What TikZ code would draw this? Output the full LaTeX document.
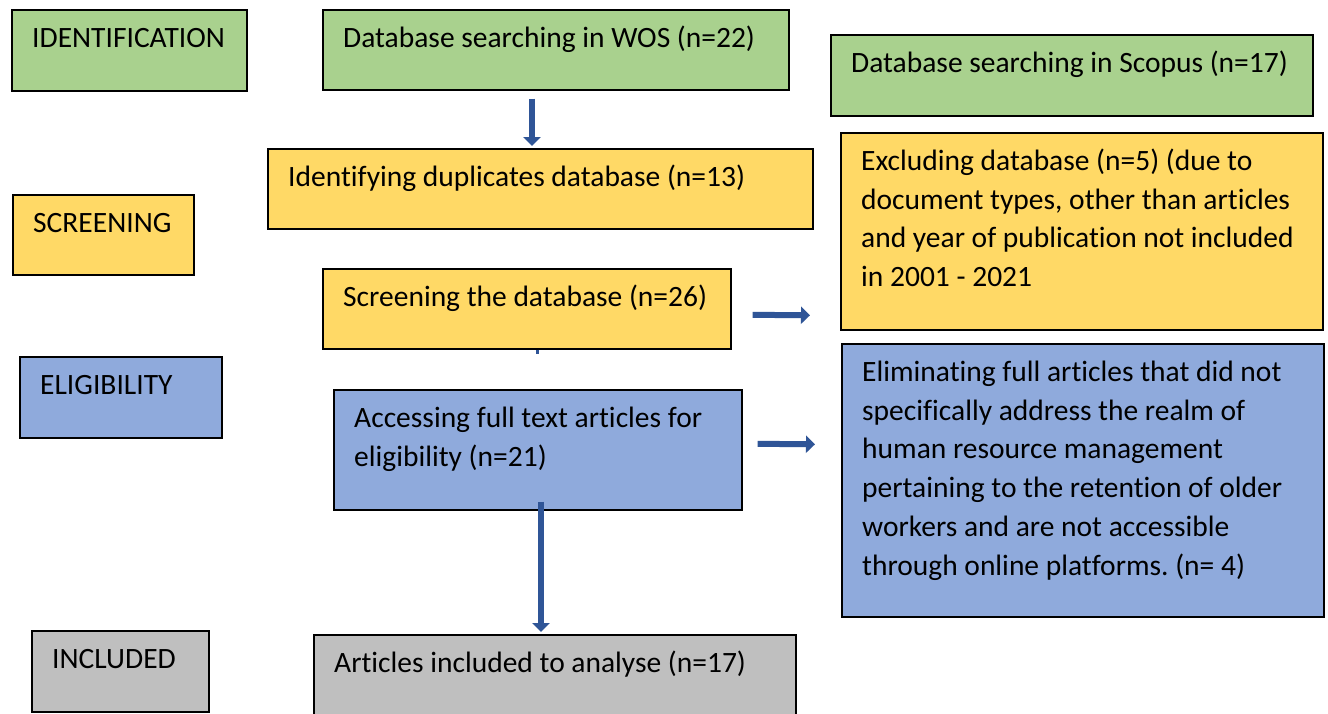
\documentclass[tikz,border=0pt]{standalone}
\usepackage{fontspec}
\setmainfont{Carlito}[Ligatures=NoCommon]
\usetikzlibrary{arrows.meta,calc}
\frenchspacing

\definecolor{idgreen}{HTML}{A9D18E}
\definecolor{scyellow}{HTML}{FFD966}
\definecolor{elblue}{HTML}{8FAADC}
\definecolor{ingray}{HTML}{BFBFBF}
\definecolor{arrblue}{HTML}{2F5597}

% box: name, x, y, width, height, fill, text
\newcommand\stagebox[7]{%
\node[stage,fill=#6,minimum width=#4pt,minimum height=#5pt] (#1) at (#2,#3) {};
\node[boxtext] (#1-txt) at ($(#1.north west)+(21,38.5)$) {\parbox[t]{500pt}{\raggedright #7}};}

\begin{document}
\begin{tikzpicture}[x=1pt,y=-1pt,
  stage/.style={draw=black,line width=1.6pt,anchor=north west,inner sep=0pt},
  boxtext/.style={anchor=base west,inner sep=0pt,font=\fontsize{29.5}{38.7}\selectfont},
  flow/.style={draw=arrblue,line width=6pt,-{Triangle[width=17pt,length=9pt]}}]
\useasboundingbox (0,0) rectangle (1328,713);
\fill[white] (0,0) rectangle (1328,713);

% stage labels
\stagebox{ident}{11}{9}{235}{81}{idgreen}{IDENTIFICATION}
\stagebox{screen}{12}{194}{181}{80}{scyellow}{SCREENING}
\stagebox{elig}{19}{356}{202}{81}{elblue}{ELIGIBILITY}
\stagebox{incl}{31}{630}{177}{81}{ingray}{INCLUDED}

% records
\stagebox{wos}{322}{9}{466}{80}{idgreen}{Database searching in WOS (n=22)}
\stagebox{scopus}{830}{34}{482}{81}{idgreen}{Database searching in Scopus (n=17)}
\stagebox{dup}{267}{148}{545}{80}{scyellow}{Identifying duplicates database (n=13)}
\stagebox{excl}{840}{132}{482}{197}{scyellow}{Excluding database (n=5) (due to\\
document types, other than articles\\
and year of publication not included\\
in 2001 - 2021}
\stagebox{scrdb}{322}{268}{408}{80}{scyellow}{Screening the database (n=26)}
\stagebox{elim}{841}{343}{482}{273}{elblue}{Eliminating full articles that did not\\
specifically address the realm of\\
human resource management\\
pertaining to the retention of older\\
workers and are not accessible\\
through online platforms. (n= 4)}
\stagebox{full}{333}{389}{408}{120}{elblue}{Accessing full text articles for\\
eligibility (n=21)}
\stagebox{art}{313}{634}{482}{81}{ingray}{Articles included to analyse (n=17)}

% arrows
\coordinate (a1s) at ($(wos.south west)+(210,8)$);
\coordinate (a1e) at ($(dup.north west)+(265,-2)$);
\draw[flow] (a1s) -- (a1e);
\coordinate (a2s) at ($(scrdb.east)+(21,6)$);
\coordinate (a2e) at ($(excl.west)+(-30,84)$);
\draw[flow] (a2s) -- (a2e);
\coordinate (a3s) at ($(full.east)+(15,-6)$);
\coordinate (a3e) at ($(elim.west)+(-26,-36)$);
\draw[flow] (a3s) -- (a3e);
\coordinate (a4s) at ($(full.south west)+(208,-9)$);
\coordinate (a4e) at ($(art.north west)+(228,-2)$);
\draw[flow] (a4s) -- (a4e);
\draw[arrblue,line width=3pt] ($(scrdb.south west)+(215,0)$) -- ++(0,4);
\end{tikzpicture}
\end{document}
